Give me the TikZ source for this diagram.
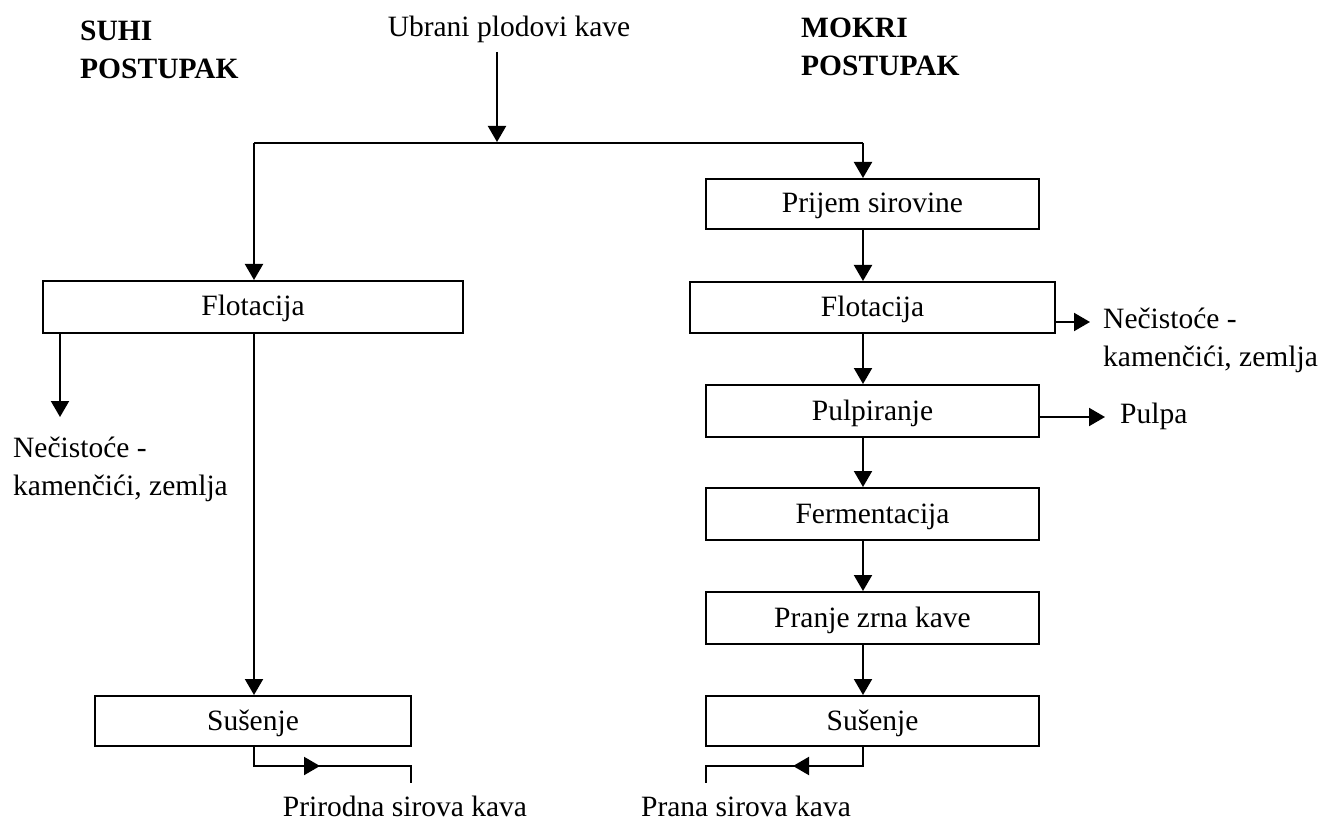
\documentclass[tikz,border=0pt]{standalone}
\usepackage{fontspec}
\setmainfont{Liberation Serif}
\usetikzlibrary{arrows.meta}
\begin{document}
\begin{tikzpicture}[x=1pt,y=-1pt,
  every node/.style={font=\fontsize{29.5}{38}\selectfont, inner sep=0pt},
  box/.style={draw, line width=2pt, text height=20pt, text depth=2pt},
  con/.style={line width=2pt},
  arr/.style={con, -{Triangle[length=16pt,width=18pt]}},
  hdr/.style={anchor=base west, font=\fontsize{29.5}{38}\selectfont\bfseries},
  lbl/.style={anchor=base west},
]
\useasboundingbox (0,0) rectangle (1323,829);

% headers
\node[hdr] (suhi) at (80,41) {\begin{tabular}[t]{@{}l@{}}SUHI\\POSTUPAK\end{tabular}};
\node[hdr] (mokri) at (801,38) {\begin{tabular}[t]{@{}l@{}}MOKRI\\POSTUPAK\end{tabular}};
\node[anchor=base] (ubrani) at (509,37) {Ubrani plodovi kave};

% boxes
\node[box, minimum width=420pt, minimum height=52pt] (L1) at (253,307) {Flotacija};
\node[box, minimum width=316pt, minimum height=50pt] (L2) at (253,721) {Sušenje};
\node[box, minimum width=333pt, minimum height=50pt] (R1) at (872.5,204) {Prijem sirovine};
\node[box, minimum width=365pt, minimum height=51pt] (R2) at (872.5,307.5) {Flotacija};
\node[box, minimum width=333pt, minimum height=52pt] (R3) at (872.5,411) {Pulpiranje};
\node[box, minimum width=333pt, minimum height=52pt] (R4) at (872.5,514) {Fermentacija};
\node[box, minimum width=333pt, minimum height=52pt] (R5) at (872.5,618) {Pranje zrna kave};
\node[box, minimum width=333pt, minimum height=50pt] (R6) at (872.5,721) {Sušenje};

% side labels
\node[lbl] (nl) at (13,457) {\begin{tabular}[t]{@{}l@{}}Nečistoće -\\kamenčići, zemlja\end{tabular}};
\node[lbl] (nr) at (1103,328) {\begin{tabular}[t]{@{}l@{}}Nečistoće -\\kamenčići, zemlja\end{tabular}};
\node[lbl] (pulpa) at (1120,423) {Pulpa};
\node[anchor=base] (prir) at (405,816) {Prirodna sirova kava};
\node[anchor=base] (pran) at (746,816) {Prana sirova kava};

% coordinates
\coordinate (a0) at (497,52);
\coordinate (sp) at (497,142);
\coordinate (sl) at (254,143);
\coordinate (sr) at (863,143);
\coordinate (lc) at (254,0);
\coordinate (rc) at (863,0);
\coordinate (n1) at (60,417);
\coordinate (n2) at (1090,322);
\coordinate (n3) at (1105,417);
\coordinate (lb1) at (254,766);
\coordinate (lbm) at (320,766);
\coordinate (lb2) at (411,766);
\coordinate (lb3) at (411,783);
\coordinate (rb1) at (863,766);
\coordinate (rbm) at (793,766);
\coordinate (rb2) at (706,766);
\coordinate (rb3) at (706,783);

% top split
\draw[arr] (a0) -- (sp);
\draw[con] (sl) -- (sr);
\draw[arr] (sl) -- (L1.north -| lc);
\draw[arr] (sr) -- (R1.north -| rc);

% left branch
\draw[arr] (L1.south -| n1) -- (n1);
\draw[arr] (L1.south -| lc) -- (L2.north -| lc);
\draw[con] (L2.south -| lc) -- (lb1) -- (lb2) -- (lb3);
\draw[arr] (lb1) -- (lbm);

% right branch
\draw[arr] (R1.south -| rc) -- (R2.north -| rc);
\draw[arr] (R2.south -| rc) -- (R3.north -| rc);
\draw[arr] (R3.south -| rc) -- (R4.north -| rc);
\draw[arr] (R4.south -| rc) -- (R5.north -| rc);
\draw[arr] (R5.south -| rc) -- (R6.north -| rc);
\draw[arr] (R2.east |- n2) -- (n2);
\draw[arr] (R3.east |- n3) -- (n3);
\draw[con] (R6.south -| rc) -- (rb1) -- (rb2) -- (rb3);
\draw[arr] (rb1) -- (rbm);
\end{tikzpicture}
\end{document}
